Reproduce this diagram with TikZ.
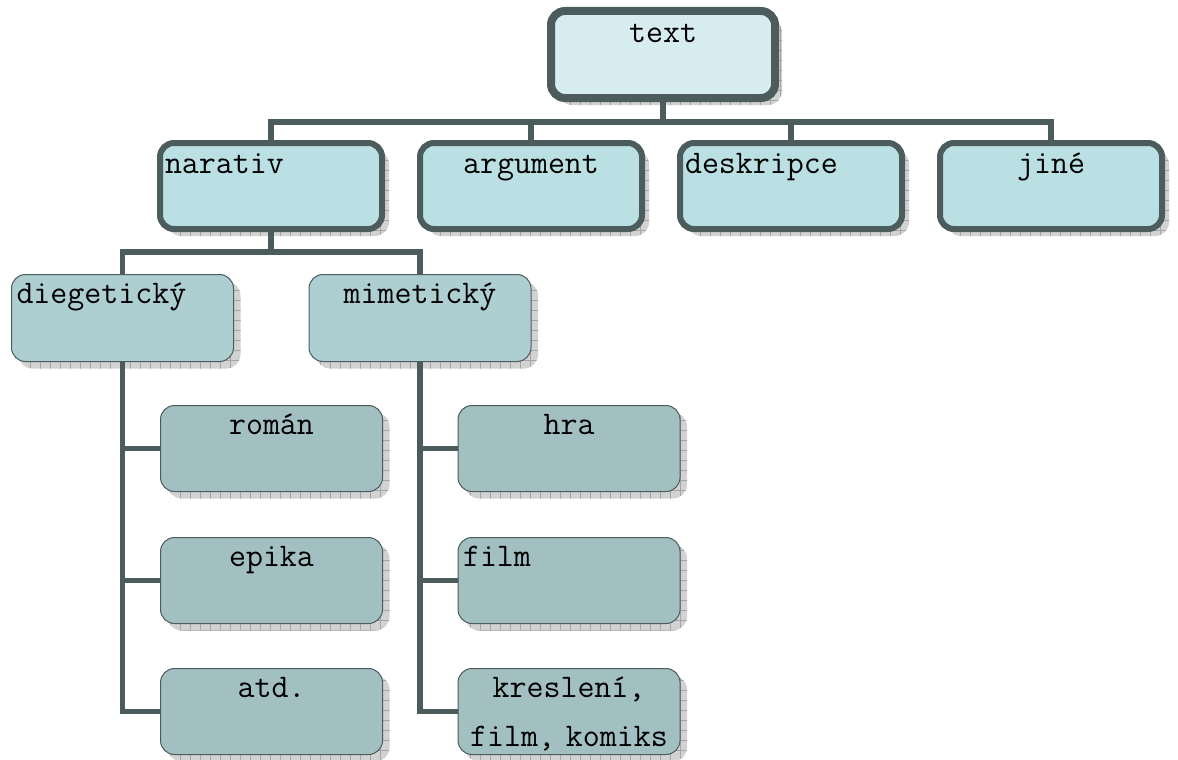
\documentclass[tikz,border=0pt]{standalone}
\usepackage{fontspec}
\usetikzlibrary{shadows,patterns.meta}
\definecolor{edge}{RGB}{76,92,92}
\definecolor{fillone}{RGB}{214,236,239}
\definecolor{filltwo}{RGB}{186,224,227}
\definecolor{fillthree}{RGB}{174,207,210}
\definecolor{fillfour}{RGB}{162,192,194}
\definecolor{shadefill}{RGB}{210,210,210}
\definecolor{shadegrid}{RGB}{165,165,165}
\begin{document}
\begin{tikzpicture}[x=1pt,y=-1pt,
  box/.style={rectangle,rounded corners=14pt,draw=edge,inner xsep=5pt,inner ysep=0pt,outer sep=0pt,
    font=\ttfamily\fontsize{33pt}{49pt}\selectfont,
    general shadow={shadow xshift=7pt,shadow yshift=-7pt,fill=shadefill},
    general shadow={shadow xshift=7pt,shadow yshift=-7pt,pattern={Hatch[angle=0,distance=10pt,line width=0.6pt]},pattern color=shadegrid}},
  topbox/.style={box,line width=8pt,fill=fillone,text width=214pt,text height=32pt,text depth=55pt},
  typebox/.style={box,line width=6pt,fill=filltwo,text width=212pt,text height=30pt,text depth=56pt},
  modebox/.style={box,line width=1pt,fill=fillthree,text width=212pt,text height=28.5pt,text depth=58.5pt},
  kindbox/.style={box,line width=1pt,fill=fillfour,text width=212pt,text height=28.5pt,text depth=57.5pt},
  link/.style={draw=edge,line width=5.5pt}]
\useasboundingbox (0,0) rectangle (1178,760);

\node[topbox,align=center] (txt) at (663,54.5) {text};

\node[typebox,align=left] (narativ) at (271,186) {narativ};
\node[typebox,align=center] (argument) at (531,186) {argument};
\node[typebox,align=left] (deskripce) at (791,186) {deskripce};
\node[typebox,align=center] (jine) at (1051,186) {jiné};

\node[modebox,align=left] (diegeticky) at (122.5,318) {diegetický};
\node[modebox,align=center] (mimeticky) at (420,318) {mimetický};

\node[kindbox,align=center] (roman) at (271.5,448.5) {román};
\node[kindbox,align=center] (epika) at (271.5,580.5) {epika};
\node[kindbox,align=center] (atd) at (271.5,711.5) {atd.};
\node[kindbox,align=center] (hra) at (569,448.5) {hra};
\node[kindbox,align=left] (film) at (569,580.5) {film};
\node[kindbox,align=center] (kresleni) at (569,711.5) {kreslení,\\film, komiks};

\coordinate (busa) at (0,122);
\coordinate (busb) at (0,252);
\draw[link] (txt.south) -- (txt.south |- busa);
\draw[link] (narativ.north) |- (jine.north |- busa) -- (jine.north);
\draw[link] (argument.north) -- (argument.north |- busa);
\draw[link] (deskripce.north) -- (deskripce.north |- busa);

\draw[link] (narativ.south) -- (narativ.south |- busb);
\draw[link] (diegeticky.north) |- (mimeticky.north |- busb) -- (mimeticky.north);

\draw[link] (diegeticky.south) |- (atd.west);
\draw[link] (diegeticky.south |- roman.west) -- (roman.west);
\draw[link] (diegeticky.south |- epika.west) -- (epika.west);
\draw[link] (mimeticky.south) |- (kresleni.west);
\draw[link] (mimeticky.south |- hra.west) -- (hra.west);
\draw[link] (mimeticky.south |- film.west) -- (film.west);
\end{tikzpicture}
\end{document}
